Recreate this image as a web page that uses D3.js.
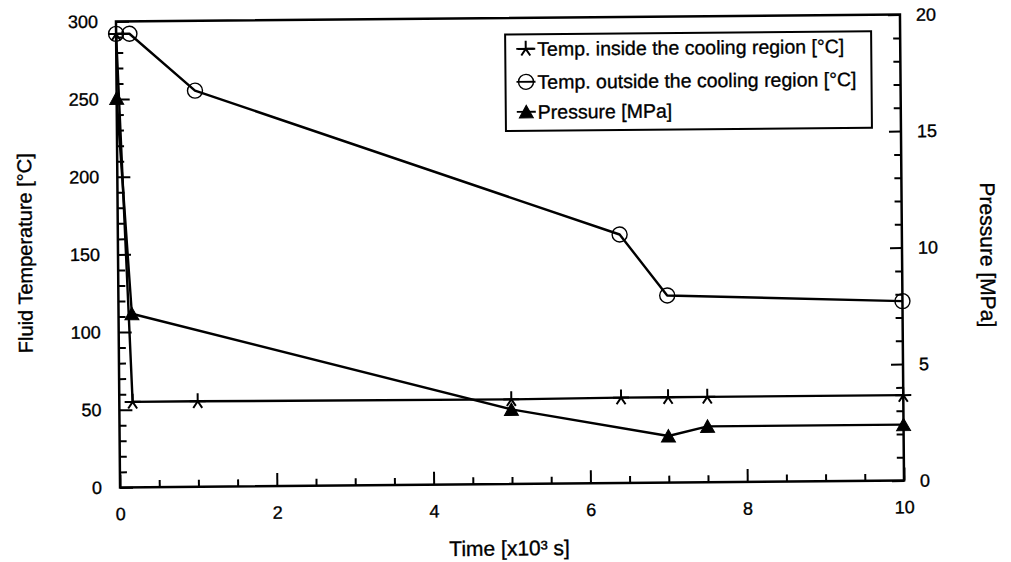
<!DOCTYPE html>
<html>
<head>
<meta charset="utf-8">
<script src="https://cdn.jsdelivr.net/npm/d3@7"></script>
<style>
  html, body { margin: 0; padding: 0; background: #fff; }
  svg { display: block; font-family: "Liberation Sans", Arial, Helvetica, sans-serif; }
  svg text { stroke: #000; stroke-width: 0.35px; fill: #000; }
</style>
</head>
<body>
<svg id="chart" width="1011" height="562"></svg>
<script>
// ---- data ----
const timeInside    = [0, 0.17, 1, 5, 6.4, 7, 7.5, 10];
const tempInside    = [292, 55, 55, 54.5, 55, 55, 55, 55];
const timeOutside   = [0, 0.17, 1, 6.4, 7, 10];
const tempOutside   = [292, 292, 255, 160, 120.5, 115.5];
const timePressure  = [0, 0.17, 5, 7, 7.5, 10];
const pressure      = [16.7, 7.45, 3.2, 2.0, 2.4, 2.4];

const xMajor = [0, 2, 4, 6, 8, 10];
const xMinor = d3.range(0.5, 10, 0.5).filter(v => v % 2 !== 0);
const tMajor = [0, 50, 100, 150, 200, 250, 300];
const tMinor = d3.range(10, 300, 10).filter(v => v % 50 !== 0);
const pMajor = [0, 5, 10, 15, 20];
const pMinor = d3.range(1, 20, 1).filter(v => v % 5 !== 0);

const legendLabels = [
  "Temp. inside the cooling region [°C]",
  "Temp. outside the cooling region [°C]",
  "Pressure [MPa]"
];

// ---- layout ----
const L = 118, R = 902, T = 18, B = 484;
const svg = d3.select("#chart");
const g = svg.append("g").attr("transform", "rotate(-0.5,510,251)");

const x  = d3.scaleLinear().domain([0, 10]).range([L, R]);
const yT = d3.scaleLinear().domain([0, 300]).range([B, T]);
const yP = d3.scaleLinear().domain([0, 20]).range([B, T]);

function styleAxis(sel, fs) {
  sel.select(".domain").remove();
  sel.selectAll(".tick line").attr("stroke", "#000").attr("stroke-width", 2);
  sel.selectAll(".tick text").attr("fill", "#000").attr("font-size", fs)
     .attr("font-family", '"Liberation Sans", Arial, sans-serif');
}

// left axis
g.append("g").attr("transform", `translate(${L},0)`)
  .call(d3.axisLeft(yT).tickValues(tMajor).tickSizeInner(-13).tickSizeOuter(0).tickPadding(18))
  .call(s => styleAxis(s, 18));
g.append("g").attr("transform", `translate(${L},0)`)
  .call(d3.axisLeft(yT).tickValues(tMinor).tickSizeInner(-7).tickSizeOuter(0).tickFormat(""))
  .call(s => styleAxis(s, 18));

// right axis
g.append("g").attr("transform", `translate(${R},0)`)
  .call(d3.axisRight(yP).tickValues(pMajor).tickSizeInner(-12).tickSizeOuter(0).tickPadding(16))
  .call(s => styleAxis(s, 18));
g.append("g").attr("transform", `translate(${R},0)`)
  .call(d3.axisRight(yP).tickValues(pMinor).tickSizeInner(-7).tickSizeOuter(0).tickFormat(""))
  .call(s => styleAxis(s, 18));

// bottom axis
g.append("g").attr("transform", `translate(0,${B})`)
  .call(d3.axisBottom(x).tickValues(xMajor).tickSizeInner(-13).tickSizeOuter(0).tickPadding(20))
  .call(s => styleAxis(s, 18));
g.append("g").attr("transform", `translate(0,${B})`)
  .call(d3.axisBottom(x).tickValues(xMinor).tickSizeInner(-7).tickSizeOuter(0).tickFormat(""))
  .call(s => styleAxis(s, 18));

// frame
g.append("rect").attr("x", L).attr("y", T).attr("width", R - L).attr("height", B - T)
  .attr("fill", "none").attr("stroke", "#000").attr("stroke-width", 2.5);

// axis titles
g.append("text").attr("x", 507).attr("y", 548).attr("text-anchor", "middle")
  .attr("dominant-baseline", "central").attr("font-size", 21)
  .text("Time [x10³ s]");
g.append("text").attr("transform", "translate(25,249) rotate(-90)").attr("text-anchor", "middle")
  .attr("dominant-baseline", "central").attr("font-size", 20)
  .text("Fluid Temperature [°C]");
g.append("text").attr("transform", "translate(988,259) rotate(90)").attr("text-anchor", "middle")
  .attr("dominant-baseline", "central").attr("font-size", 21)
  .text("Pressure [MPa]");

// markers
const asteriskPath = (r) => {
  const a = [90, 236, 304, 0, 180].map(d => d * Math.PI / 180);
  return a.map(t => `M0,0L${(r * Math.cos(t)).toFixed(2)},${(-r * Math.sin(t)).toFixed(2)}`).join("");
};
const triPath = "M0,-6.5L7,6L-7,6Z";

function drawAsterisk(sel, cx, cy) {
  sel.append("path").attr("d", asteriskPath(8)).attr("transform", `translate(${cx},${cy})`)
    .attr("fill", "none").attr("stroke", "#000").attr("stroke-width", 2);
}
function drawCircle(sel, cx, cy) {
  sel.append("circle").attr("cx", cx).attr("cy", cy).attr("r", 7.5)
    .attr("fill", "none").attr("stroke", "#000").attr("stroke-width", 1.4);
}
function drawTri(sel, cx, cy) {
  sel.append("path").attr("d", triPath).attr("transform", `translate(${cx},${cy})`)
    .attr("fill", "#000").attr("stroke", "#000").attr("stroke-width", 1);
}

const lineGen = d3.line();
const inside  = timeInside.map((t, i) => [x(t), yT(tempInside[i])]);
const outside = timeOutside.map((t, i) => [x(t), yT(tempOutside[i])]);
const press   = timePressure.map((t, i) => [x(t), yP(pressure[i])]);

[inside, outside, press].forEach(pts => {
  g.append("path").attr("d", lineGen(pts)).attr("fill", "none")
    .attr("stroke", "#000").attr("stroke-width", 2.4).attr("stroke-linejoin", "round");
});

inside.forEach(p => drawAsterisk(g, p[0], p[1]));
outside.forEach(p => drawCircle(g, p[0], p[1]));
press.forEach(p => drawTri(g, p[0], p[1]));

// legend
const lg = g.append("g");
lg.append("rect").attr("x", 507).attr("y", 34.5).attr("width", 366).attr("height", 96.5)
  .attr("fill", "#fff").attr("stroke", "#000").attr("stroke-width", 2);
const rowY = [49, 82, 112];
const drawers = [drawAsterisk, drawCircle, drawTri];
legendLabels.forEach((lab, i) => {
  const y = rowY[i];
  lg.append("line").attr("x1", 518).attr("x2", 537).attr("y1", y).attr("y2", y)
    .attr("stroke", "#000").attr("stroke-width", 1.8);
  drawers[i](lg, 527.5, y);
  lg.append("text").attr("x", 539).attr("y", y).attr("dominant-baseline", "central")
    .attr("font-size", 19.5).text(lab);
});
</script>
</body>
</html>
